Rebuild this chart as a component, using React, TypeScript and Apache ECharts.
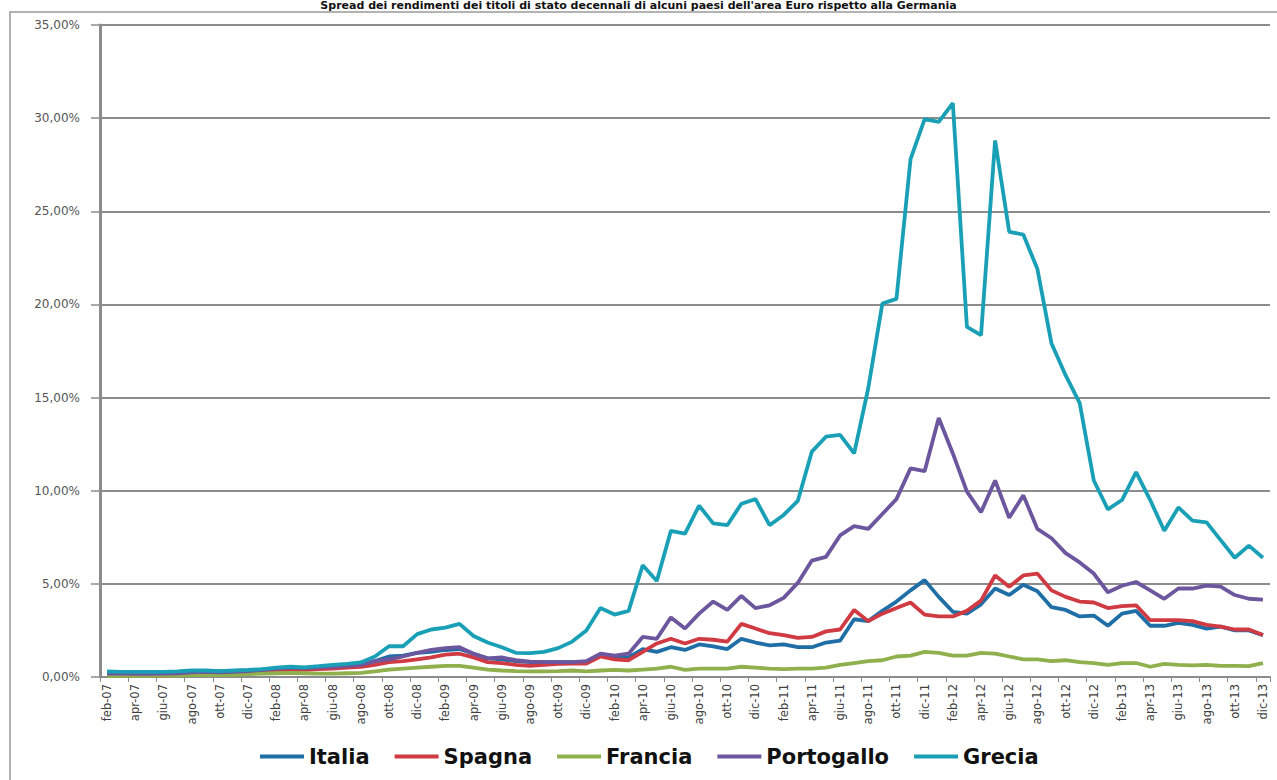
import React, { useEffect, useRef } from "react";
import * as echarts from "echarts";

const monthNames = ["gen", "feb", "mar", "apr", "mag", "giu", "lug", "ago", "set", "ott", "nov", "dic"];
const months: string[] = [];
for (let y = 7; y <= 13; y++) {
  for (let m = 0; m < 12; m++) {
    if (y === 7 && m === 0) continue;
    months.push(monthNames[m] + "-" + (y < 10 ? "0" + y : String(y)));
  }
}

const italia = [
  0.25, 0.25, 0.25, 0.24, 0.25, 0.27, 0.30, 0.32, 0.30, 0.32, 0.35, 0.40, 0.45, 0.50, 0.48, 0.50, 0.55, 0.60, 0.65, 0.85,
  1.10, 1.15, 1.30, 1.35, 1.45, 1.50, 1.25, 1.00, 0.95, 0.85, 0.80, 0.80, 0.80, 0.80, 0.80, 1.20, 1.05, 1.05, 1.50, 1.35,
  1.60, 1.45, 1.75, 1.65, 1.50, 2.05, 1.85, 1.70, 1.75, 1.60, 1.60, 1.85, 1.95, 3.10, 3.00, 3.55, 4.05, 4.65, 5.20, 4.30,
  3.50, 3.40, 3.90, 4.75, 4.40, 4.95, 4.60, 3.75, 3.60, 3.25, 3.30, 2.75, 3.40, 3.55, 2.75, 2.75, 2.90, 2.80, 2.60, 2.70,
  2.50, 2.50, 2.25,
];
const spagna = [
  0.08, 0.08, 0.08, 0.08, 0.08, 0.10, 0.15, 0.18, 0.15, 0.20, 0.25, 0.30, 0.35, 0.40, 0.38, 0.42, 0.45, 0.50, 0.55, 0.65,
  0.80, 0.85, 0.95, 1.05, 1.20, 1.25, 1.05, 0.80, 0.75, 0.65, 0.60, 0.65, 0.70, 0.72, 0.72, 1.10, 0.95, 0.90, 1.35, 1.80,
  2.05, 1.80, 2.05, 2.00, 1.90, 2.85, 2.60, 2.35, 2.25, 2.10, 2.15, 2.45, 2.55, 3.60, 3.00, 3.40, 3.70, 4.00, 3.35, 3.25,
  3.25, 3.55, 4.10, 5.45, 4.85, 5.45, 5.55, 4.65, 4.30, 4.05, 4.00, 3.70, 3.80, 3.85, 3.05, 3.05, 3.05, 3.00, 2.80, 2.70,
  2.55, 2.55, 2.25,
];
const francia = [
  0.06, 0.06, 0.06, 0.06, 0.07, 0.08, 0.10, 0.12, 0.10, 0.12, 0.15, 0.18, 0.20, 0.22, 0.20, 0.18, 0.18, 0.20, 0.22, 0.30,
  0.40, 0.45, 0.50, 0.55, 0.60, 0.60, 0.50, 0.40, 0.35, 0.32, 0.30, 0.30, 0.32, 0.35, 0.30, 0.35, 0.38, 0.35, 0.40, 0.45,
  0.55, 0.38, 0.45, 0.45, 0.45, 0.55, 0.50, 0.45, 0.42, 0.45, 0.45, 0.50, 0.65, 0.75, 0.85, 0.90, 1.10, 1.15, 1.35, 1.30,
  1.15, 1.15, 1.30, 1.25, 1.10, 0.95, 0.95, 0.85, 0.90, 0.80, 0.75, 0.65, 0.75, 0.75, 0.55, 0.70, 0.65, 0.62, 0.65, 0.60,
  0.60, 0.58, 0.75,
];
const portogallo = [
  0.18, 0.18, 0.17, 0.17, 0.18, 0.20, 0.25, 0.28, 0.25, 0.28, 0.32, 0.38, 0.45, 0.50, 0.48, 0.52, 0.55, 0.60, 0.65, 0.85,
  0.95, 1.10, 1.30, 1.45, 1.55, 1.60, 1.25, 1.00, 1.05, 0.90, 0.82, 0.80, 0.80, 0.80, 0.85, 1.25, 1.15, 1.25, 2.15, 2.05,
  3.20, 2.60, 3.40, 4.05, 3.60, 4.35, 3.70, 3.85, 4.25, 5.05, 6.25, 6.45, 7.60, 8.10, 7.95, 8.75, 9.55, 11.20, 11.05, 13.90,
  12.00, 9.95, 8.85, 10.55, 8.55, 9.75, 7.95, 7.45, 6.65, 6.15, 5.55, 4.55, 4.90, 5.10, 4.65, 4.20, 4.75, 4.75, 4.90, 4.85,
  4.40, 4.20, 4.15,
];
const grecia = [
  0.30, 0.28, 0.27, 0.27, 0.28, 0.30, 0.35, 0.35, 0.32, 0.35, 0.38, 0.42, 0.50, 0.55, 0.52, 0.58, 0.65, 0.70, 0.78, 1.10,
  1.65, 1.65, 2.30, 2.55, 2.65, 2.85, 2.20, 1.85, 1.60, 1.30, 1.28, 1.35, 1.55, 1.90, 2.50, 3.70, 3.35, 3.55, 6.00, 5.15,
  7.85, 7.70, 9.20, 8.25, 8.15, 9.30, 9.55, 8.15, 8.70, 9.45, 12.10, 12.90, 13.00, 12.00, 15.50, 20.05, 20.30, 27.80, 29.95, 29.80,
  30.80, 18.80, 18.35, 28.80, 23.90, 23.75, 21.90, 17.90, 16.20, 14.70, 10.55, 9.00, 9.50, 11.00, 9.50, 7.85, 9.10, 8.40, 8.30, 7.35,
  6.40, 7.05, 6.40,
];

const seriesNames = ["Italia", "Spagna", "Francia", "Portogallo", "Grecia"];
const seriesData = [italia, spagna, francia, portogallo, grecia];
const seriesColors = ["#1f6ea6", "#d03a43", "#8fb04c", "#6c579f", "#1aa0b6"];
const titleText =
  "Spread dei rendimenti dei titoli di stato decennali di alcuni paesi dell'area Euro rispetto alla Germania";

export default function App() {
  const ref = useRef<HTMLDivElement>(null);
  useEffect(() => {
    if (!ref.current) return;
    const chart = echarts.init(ref.current, null, { renderer: "svg" });
    const option: any = {
      animation: false,
      backgroundColor: "#ffffff",
      graphic: [
        {
          type: "rect",
          shape: { x: 10, y: 12, width: 1300, height: 800 },
          style: { fill: "none", stroke: "#9a9a9a", lineWidth: 1.5 },
          silent: true,
          z: -1,
        },
        {
          type: "text",
          left: "center",
          top: 0,
          style: {
            text: titleText,
            font: "bold 11px 'DejaVu Sans', sans-serif",
            fill: "#111111",
          },
          silent: true,
        },
      ],
      grid: { left: 100, right: 7, top: 25, bottom: 103, containLabel: false },
      legend: {
        bottom: 8,
        left: 255,
        icon: "rect",
        itemWidth: 44,
        itemHeight: 4,
        itemGap: 25,
        textStyle: {
          fontFamily: "'DejaVu Sans', sans-serif",
          fontWeight: "bold",
          fontSize: 21,
          color: "#111111",
        },
        data: seriesNames,
      },
      xAxis: {
        type: "category",
        data: months,
        boundaryGap: true,
        axisLine: { lineStyle: { color: "#8c8c8c", width: 2 } },
        axisTick: { show: true, interval: 1, length: 5, lineStyle: { color: "#8c8c8c" } },
        axisLabel: {
          interval: 1,
          rotate: 90,
          margin: 7,
          fontSize: 11.5,
          color: "#404040",
          fontFamily: "'DejaVu Sans', sans-serif",
        },
        splitLine: { show: false },
      },
      yAxis: {
        type: "value",
        min: 0,
        max: 35,
        interval: 5,
        axisLine: { show: true, lineStyle: { color: "#8c8c8c", width: 3 } },
        axisTick: { show: true, length: 9, lineStyle: { color: "#8c8c8c", width: 1.5 } },
        axisLabel: {
          margin: 20,
          fontSize: 12,
          color: "#555555",
          fontFamily: "'DejaVu Sans', sans-serif",
          formatter: (v: number) => v.toFixed(2).replace(".", ",") + "%",
        },
        splitLine: { show: true, lineStyle: { color: "#8c8c8c", width: 2 } },
      },
      series: seriesNames.map((name, i) => ({
        name,
        type: "line",
        data: seriesData[i],
        symbol: "none",
        showSymbol: false,
        color: seriesColors[i],
        lineStyle: { width: 3.8, color: seriesColors[i] },
      })),
    };
    chart.setOption(option);
    return () => chart.dispose();
  }, []);
  return (
    <div
      ref={ref}
      style={{ position: "fixed", left: 0, top: 0, width: 1277, height: 780, background: "#fff" }}
    />
  );
}
